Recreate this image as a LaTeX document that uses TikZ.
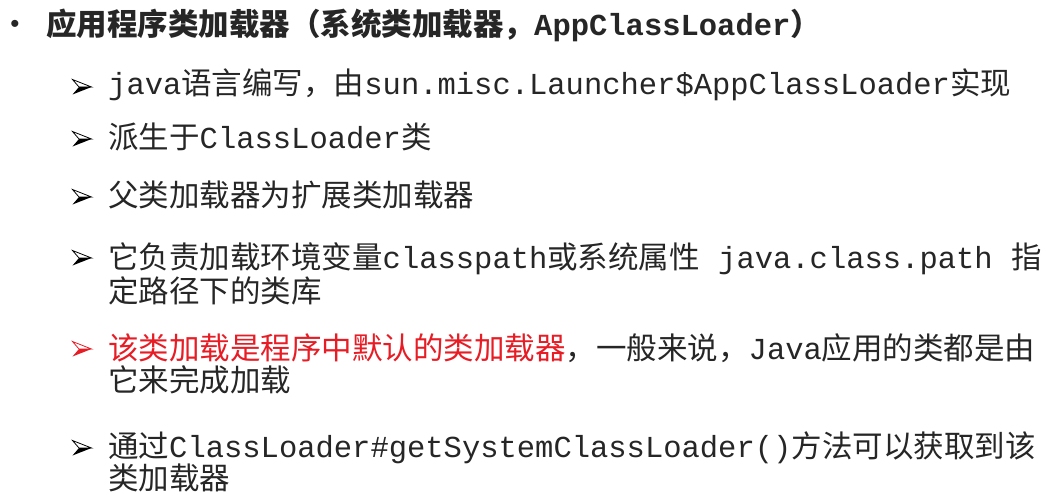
\documentclass[tikz,border=0pt]{standalone}
\usepackage{fontspec}
\setmainfont{Noto Sans CJK SC}
\setmonofont{Liberation Mono}
\newfontfamily\dotfont{Liberation Sans}
\definecolor{slidegray}{RGB}{38,38,38}
\definecolor{slidered}{RGB}{232,28,36}
\tikzset{
  slidetext/.style={font=\fontsize{30.5}{32}\selectfont, text=slidegray, anchor=base west, inner sep=0pt},
  pics/arrowbul/.style={code={
    \draw[fill=white,draw=#1,line width=0.8pt] (9.5,0) -- (-9.5,-7.5) -- (-3,0) -- cycle;
    \fill[#1] (9.5,0) -- (-9.5,7.5) -- (-3,0) -- cycle;
  }}
}
\begin{document}
\begin{tikzpicture}[x=1pt,y=-1pt]
  \useasboundingbox[fill=white] (0,0) rectangle (1051,500);
  %titolo
  \node[slidetext,anchor=center,font=\dotfont\fontsize{26}{26}\selectfont] (dot) at (15,26) {•};
  \node[slidetext,font=\bfseries\fontsize{30.5}{32}\selectfont] (title) at (46,36)
    {应用程序类加载器（系统类加载器，\texttt{AppClassLoader}）};
  %frecce
  \pic at (82,87) {arrowbul=black};
  \pic at (82,139) {arrowbul=black};
  \pic at (82,197) {arrowbul=black};
  \pic at (82,258) {arrowbul=black};
  \pic at (82,349) {arrowbul=slidered};
  \pic at (82,448) {arrowbul=black};
  %testo
  \node[slidetext] (ln1) at (108,95) {\texttt{java}语言编写，由\texttt{sun.misc.Launcher\$AppClassLoader}实现};
  \node[slidetext] (ln2) at (108,148) {派生于\texttt{ClassLoader}类};
  \node[slidetext] (ln3) at (108,206) {父类加载器为扩展类加载器};
  \node[slidetext] (ln4a) at (108,268) {它负责加载环境变量\texttt{classpath}或系统属性\texttt{ java.class.path }指};
  \node[slidetext] (ln4b) at (108,302) {定路径下的类库};
  \node[slidetext] (ln5a) at (108,359) {\textcolor{slidered}{该类加载是程序中默认的类加载器}，一般来说，\texttt{Java}应用的类都是由};
  \node[slidetext] (ln5b) at (108,391) {它来完成加载};
  \node[slidetext] (ln6a) at (108,457) {通过\texttt{ClassLoader\#getSystemClassLoader()}方法可以获取到该};
  \node[slidetext] (ln6b) at (108,489) {类加载器};
\end{tikzpicture}
\end{document}
